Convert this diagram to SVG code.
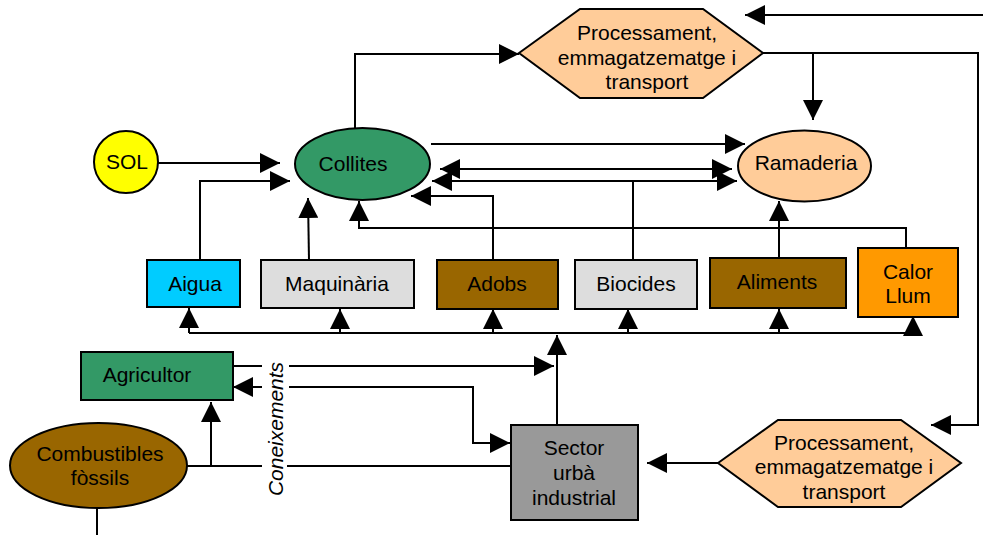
<svg xmlns="http://www.w3.org/2000/svg" width="983" height="535" viewBox="0 0 983 535">
<defs>
<marker id="ah" markerUnits="userSpaceOnUse" markerWidth="20" markerHeight="20" refX="20" refY="10" orient="auto-start-reverse" viewBox="0 0 20 20">
<path d="M0,0 L20,10 L0,20 z" fill="#000"/>
</marker>
<style>
.shape{stroke:#000;stroke-width:2}
.t{font-family:"Liberation Sans",Arial,sans-serif;font-size:21px;fill:#000;text-anchor:middle}
.c{fill:none;stroke:#000;stroke-width:2}
.a{marker-end:url(#ah)}
.aa{marker-end:url(#ah);marker-start:url(#ah)}
</style>
</defs>
<rect width="983" height="535" fill="#fff"/>
<g id="connectors">
<!-- SOL to Collites -->
<path class="c a" d="M158,163 L280,163"/>
<!-- Aigua to Collites -->
<path class="c a" d="M200,260 L200,181 L290,181"/>
<!-- Maquinaria to Collites -->
<path class="c a" d="M309,260 L308,198"/>
<!-- Calor to Collites -->
<path class="c a" d="M906,248 L906,228 L359,228 L359,201"/>
<!-- Adobs to Collites -->
<path class="c a" d="M493,260 L493,196 L411,196"/>
<!-- Collites to top Processament -->
<path class="c a" d="M355,128 L355,54 L519,54"/>
<!-- top right incoming arrow -->
<path class="c a" d="M983,15 L745,15"/>
<!-- top hex to bottom hex -->
<path class="c a" d="M763,53 L978,53 L978,425 L931,425"/>
<!-- top hex to Ramaderia -->
<path class="c a" d="M813,53 L813,120"/>
<!-- Collites to Ramaderia -->
<path class="c a" d="M431,144 L745,144"/>
<!-- exchange -->
<path class="c aa" d="M440,169 L732,169"/>
<!-- Biocides to both -->
<path class="c a" d="M633,260 L633,181 L432,181"/>
<path class="c a" d="M633,181 L737,181"/>
<!-- Aliments to Ramaderia -->
<path class="c a" d="M779,258 L779,201"/>
<!-- distribution bus -->
<path class="c" d="M189,333 L913,333"/>
<path class="c a" d="M189,333 L189,308"/>
<path class="c a" d="M340,333 L340,309"/>
<path class="c a" d="M493,333 L493,309"/>
<path class="c a" d="M628,333 L628,309"/>
<path class="c a" d="M779,333 L779,309"/>
<path class="c a" d="M913,336 L913,316"/>
<!-- Sector up to bus -->
<path class="c a" d="M557,425 L557,335"/>
<!-- Agricultor to Sector bus -->
<path class="c" d="M233,366 L262,366"/>
<path class="c a" d="M289,366 L554,366"/>
<!-- Coneixements Sector <-> Agricultor -->
<path class="c a" d="M262,387 L233,387"/>
<path class="c a" d="M289,387 L473,387 L473,443 L510,443"/>
<!-- Combustibles -->
<path class="c" d="M187,466 L262,466"/>
<path class="c" d="M287,466 L511,466"/>
<path class="c a" d="M211,466 L211,402"/>
<path class="c" d="M97,508 L97,535"/>
<!-- bottom hex to Sector -->
<path class="c a" d="M718,463 L647,463"/>
</g>
<g id="sol">
<ellipse class="shape" cx="126" cy="162" rx="32" ry="31" fill="#ffff00"/>
<text class="t" x="127" y="169">SOL</text>
</g>
<g id="collites">
<ellipse class="shape" cx="362.5" cy="164" rx="67.5" ry="36" fill="#339966"/>
<text class="t" x="353" y="171">Collites</text>
</g>
<g id="ramaderia">
<ellipse class="shape" cx="804.5" cy="166" rx="66.5" ry="35.5" fill="#ffcc99"/>
<text class="t" x="806" y="170">Ramaderia</text>
</g>
<g id="processament-top">
<polygon class="shape" points="519,53 580,9 703,9 763,53 703,98 580,98" fill="#ffcc99"/>
<text class="t" x="647" y="40">Processament,</text>
<text class="t" x="647" y="64.5">emmagatzematge i</text>
<text class="t" x="647" y="89">transport</text>
</g>
<g id="aigua">
<rect class="shape" x="147" y="260" width="93" height="47" fill="#00ccff"/>
<text class="t" x="195" y="291">Aigua</text>
</g>
<g id="maquinaria">
<rect class="shape" x="261" y="260" width="153" height="48" fill="#dddddd"/>
<text class="t" x="337" y="291">Maquinària</text>
</g>
<g id="adobs">
<rect class="shape" x="437" y="260" width="121" height="49" fill="#996600"/>
<text class="t" x="497" y="291">Adobs</text>
</g>
<g id="biocides">
<rect class="shape" x="575" y="260" width="122" height="49" fill="#dddddd"/>
<text class="t" x="636" y="291">Biocides</text>
</g>
<g id="aliments">
<rect class="shape" x="710" y="258" width="136" height="50" fill="#996600"/>
<text class="t" x="777" y="289">Aliments</text>
</g>
<g id="calor-llum">
<rect class="shape" x="858" y="248" width="100" height="69" fill="#ff9900"/>
<text class="t" x="908" y="279">Calor</text>
<text class="t" x="908" y="303">Llum</text>
</g>
<g id="agricultor">
<rect class="shape" x="81" y="352" width="152" height="48" fill="#339966"/>
<text class="t" x="147" y="382">Agricultor</text>
</g>
<g id="combustibles">
<ellipse class="shape" cx="98.5" cy="465.5" rx="88.5" ry="42.5" fill="#996600"/>
<text class="t" x="100" y="461">Combustibles</text>
<text class="t" x="100" y="485">fòssils</text>
</g>
<g id="coneixements">
<text class="t" font-style="italic" transform="translate(283,429) rotate(-90)">Coneixements</text>
</g>
<g id="sector">
<rect class="shape" x="511" y="425" width="127" height="95" fill="#999999"/>
<text class="t" x="574" y="455">Sector</text>
<text class="t" x="574" y="480">urbà</text>
<text class="t" x="574" y="505">industrial</text>
</g>
<g id="processament-bottom">
<polygon class="shape" points="718,463 778,420 901,420 961,463 901,507 778,507" fill="#ffcc99"/>
<text class="t" x="844" y="450">Processament,</text>
<text class="t" x="844" y="474">emmagatzematge i</text>
<text class="t" x="844" y="499">transport</text>
</g>
</svg>
